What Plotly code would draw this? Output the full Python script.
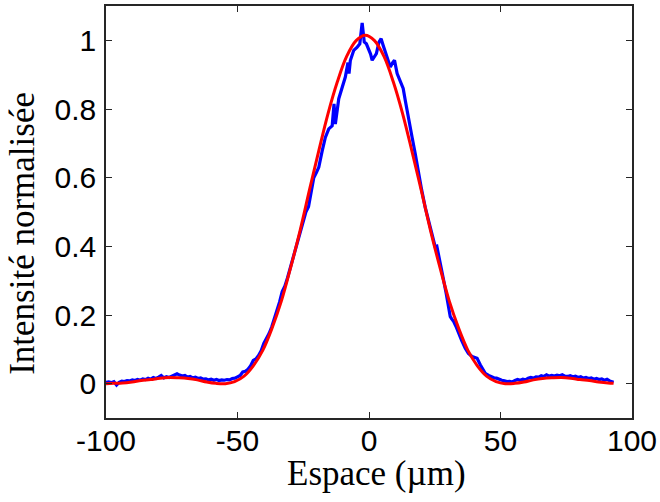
import plotly.graph_objects as go

# ---------------- data ----------------
# red fitted curve (x in µm, normalised intensity)
fit_x = [-100.0, -97.2, -93.7, -90.1, -86.6, -83.0, -79.5, -75.9, -72.4, -68.8,
         -65.3, -61.7, -58.2, -54.6, -51.1, -47.5, -44.0, -40.4, -36.9, -33.3,
         -29.8, -26.2, -22.7, -19.1, -15.6, -12.0, -8.5, -4.9, -1.4, 2.1,
         5.7, 9.2, 12.8, 16.3, 19.9, 23.4, 27.0, 30.5, 34.1, 37.6,
         41.2, 44.7, 48.3, 51.8, 55.4, 58.9, 62.5, 66.0, 69.6, 73.1,
         76.7, 80.2, 83.8, 87.3, 90.9, 93.0]
fit_y = [0.000, 0.001, 0.002, 0.005, 0.009, 0.012, 0.016, 0.018, 0.017, 0.015,
         0.011, 0.005, 0.001, 0.000, 0.006, 0.022, 0.052, 0.097, 0.161, 0.241,
         0.338, 0.446, 0.562, 0.678, 0.786, 0.880, 0.953, 0.999, 1.015, 0.999,
         0.953, 0.880, 0.786, 0.678, 0.562, 0.446, 0.338, 0.241, 0.161, 0.097,
         0.052, 0.022, 0.006, 0.000, 0.001, 0.005, 0.011, 0.015, 0.017, 0.018,
         0.016, 0.012, 0.009, 0.005, 0.002, 0.001]

# blue measured profile
meas_x = [-100, -99, -98, -97, -96, -95, -94, -93, -92, -91,
          -90, -89, -88, -87, -86, -85, -84, -83, -82, -81,
          -80, -79, -78, -77, -76, -75, -74, -73, -72, -71,
          -70, -69, -68, -67, -66, -65, -64, -63, -62, -61,
          -60, -59, -58, -57, -56, -55, -54, -53, -52, -51,
          -50, -49, -48, -47, -46, -45, -44, -43, -42, -41,
          -40, -39, -38, -37, -36, -35, -34, -33, -32, -31,
          -30, -29, -28, -27, -26, -25, -24, -23, -22, -21,
          -20, -19.1, -17.8, -16.6, -15.3, -14.0, -13.3, -12.8, -11.5, -10.2,
          -9.0, -8.0, -7.6, -7.1, -5.8, -4.5, -3.5, -2.6, -1.8, -1.0,
          -0.1, 0.6, 1.2, 2.0, 2.8, 3.8, 4.6, 5.4, 6.2, 7.2,
          8.1, 9.0, 9.7, 10.7, 12.2, 13.0, 13.8, 15.1, 16.4, 17.6,
          19.0, 20.0, 21.4, 22.5, 23.5, 24.5, 25.2, 25.8, 26.5, 27.5,
          28.4, 29.3, 30.2, 30.9, 31.5, 32.2, 33.0, 34.1, 35.3, 36.6,
          37.8, 39.2, 40.2, 41.1, 42.3, 43.3, 44.2, 45.5, 46.5, 47.5,
          48.5, 49.5, 50.5, 51.5, 52.5, 53.5, 54.5, 55.5, 56.5, 57.5,
          58.5, 59.5, 60.5, 61.5, 62.5, 63.5, 64.5, 65.5, 66.5, 67.5,
          68.5, 69.5, 70.5, 71.5, 72.5, 73.5, 74.5, 75.5, 76.5, 77.5,
          78.5, 79.5, 80.5, 81.5, 82.5, 83.5, 84.5, 85.5, 86.5, 87.5,
          88.5, 89.5, 90.5, 91.5, 92.5, 93.0]
meas_y = [0.004, 0.005, 0.003, 0.006, -0.004, 0.004, 0.007, 0.006, 0.009, 0.008,
          0.011, 0.009, 0.012, 0.010, 0.014, 0.012, 0.016, 0.013, 0.018, 0.015,
          0.019, 0.024, 0.017, 0.020, 0.018, 0.021, 0.024, 0.029, 0.025, 0.022,
          0.024, 0.019, 0.021, 0.017, 0.019, 0.015, 0.017, 0.013, 0.014, 0.011,
          0.013, 0.010, 0.012, 0.009, 0.011, 0.010, 0.012, 0.011, 0.015, 0.016,
          0.020, 0.024, 0.034, 0.036, 0.042, 0.052, 0.068, 0.072, 0.082, 0.096,
          0.117, 0.130, 0.146, 0.165, 0.188, 0.210, 0.238, 0.268, 0.284, 0.308,
          0.336, 0.362, 0.392, 0.420, 0.448, 0.478, 0.500, 0.515, 0.560, 0.600,
          0.615, 0.630, 0.678, 0.717, 0.742, 0.751, 0.815, 0.756, 0.830, 0.859,
          0.893, 0.935, 0.903, 0.941, 0.971, 0.980, 0.990, 1.051, 0.995, 0.990,
          0.975, 0.960, 0.942, 0.950, 0.961, 0.995, 1.005, 0.985, 0.966, 0.945,
          0.922, 0.935, 0.942, 0.903, 0.878, 0.860, 0.825, 0.766, 0.717, 0.669,
          0.600, 0.565, 0.513, 0.480, 0.455, 0.418, 0.398, 0.400, 0.370, 0.335,
          0.300, 0.265, 0.225, 0.195, 0.188, 0.181, 0.168, 0.150, 0.125, 0.103,
          0.088, 0.079, 0.076, 0.074, 0.055, 0.040, 0.030, 0.024, 0.020, 0.017,
          0.016, 0.012, 0.010, 0.008, 0.006, 0.007, 0.005, 0.009, 0.012, 0.010,
          0.013, 0.011, 0.016, 0.018, 0.016, 0.020, 0.019, 0.023, 0.021, 0.026,
          0.022, 0.024, 0.022, 0.025, 0.023, 0.026, 0.022, 0.021, 0.023, 0.020,
          0.022, 0.018, 0.020, 0.016, 0.018, 0.015, 0.017, 0.013, 0.015, 0.012,
          0.014, 0.010, 0.013, 0.008, 0.006, 0.004]

x_ticks = [-100, -50, 0, 50, 100]
x_tick_text = ["-100", "-50", "0", "50", "100"]
y_ticks = [0, 0.2, 0.4, 0.6, 0.8, 1]
y_tick_text = ["0", "0.2", "0.4", "0.6", "0.8", "1"]

x_title = "Espace (µm)"
y_title = "Intensité normalisée"

# ---------------- figure ----------------
fig = go.Figure()
fig.add_trace(go.Scatter(x=meas_x, y=meas_y, mode="lines",
                         line=dict(color="#0000FF", width=3.2),
                         showlegend=False, hoverinfo="skip"))
fig.add_trace(go.Scatter(x=fit_x, y=fit_y, mode="lines",
                         line=dict(color="#FF0000", width=3, shape="spline", smoothing=1.0),
                         showlegend=False, hoverinfo="skip"))

axis_common = dict(
    showline=True, linecolor="#262626", linewidth=1.5, mirror="ticks",
    ticks="inside", ticklen=6, tickwidth=1, tickcolor="#262626",
    showgrid=False, zeroline=False, automargin=False,
    tickfont=dict(family="Liberation Sans, Arial", size=30, color="black"),
)

fig.update_layout(
    width=660, height=502,
    margin=dict(l=106, r=28, t=6, b=84),
    paper_bgcolor="white", plot_bgcolor="white",
    xaxis=dict(range=[-100, 100], tickvals=x_ticks, ticktext=x_tick_text,
               ticklabelstandoff=-5, **axis_common),
    yaxis=dict(range=[-0.1, 1.1], tickvals=y_ticks, ticktext=y_tick_text,
               ticklabelstandoff=2, **axis_common),
    annotations=[
        dict(text=x_title, xref="paper", yref="paper", x=0.515, y=-0.134,
             xanchor="center", yanchor="middle", showarrow=False,
             font=dict(family="Liberation Serif, Times New Roman", size=35, color="black")),
        dict(text=y_title, xref="paper", yref="paper", x=-0.160, y=0.449,
             xanchor="center", yanchor="middle", showarrow=False, textangle=-90,
             font=dict(family="Liberation Serif, Times New Roman", size=35, color="black")),
    ],
)

fig.write_html("out.html",
               config={"displayModeBar": False},
               post_script="document.body.style.margin='0';document.body.style.overflow='hidden';")
